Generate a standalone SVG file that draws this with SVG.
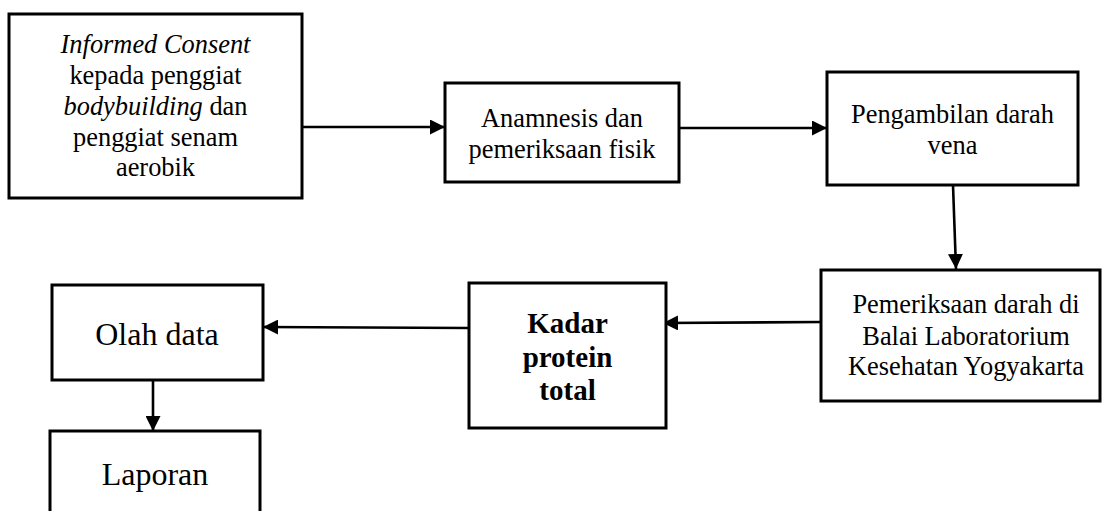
<svg xmlns="http://www.w3.org/2000/svg" width="1102" height="511" viewBox="0 0 1102 511">
<defs>
<marker id="ah" viewBox="0 0 15 15" refX="15" refY="7.5" markerWidth="15" markerHeight="15" markerUnits="userSpaceOnUse" orient="auto">
<path d="M0,0 L15,7.5 L0,15 z" fill="#000"/>
</marker>
<style>
.box{fill:#fff;stroke:#000;stroke-width:3}
.t{font-family:"Liberation Serif","Times New Roman",serif;font-size:26.4px;fill:#000;text-anchor:middle}
.b{font-weight:bold;font-size:29px}
.l{font-size:32px}
.c{fill:none;stroke:#000;stroke-width:2.6;marker-end:url(#ah)}
</style>
</defs>
<rect width="1102" height="511" fill="#fff"/>
<g id="connectors">
<line class="c" x1="302" y1="127" x2="445" y2="127"/>
<line class="c" x1="679" y1="128" x2="827" y2="128"/>
<line class="c" x1="953" y1="185" x2="956" y2="269"/>
<line class="c" x1="821" y1="322" x2="663" y2="323"/>
<line class="c" x1="469" y1="328" x2="263" y2="327"/>
<line class="c" x1="153" y1="380" x2="153" y2="431"/>
</g>
<g id="n1">
<rect class="box" x="9" y="14" width="293" height="184"/>
<text class="t" x="155.5" y="53"><tspan font-style="italic">Informed Consent</tspan></text>
<text class="t" x="155.5" y="84">kepada penggiat</text>
<text class="t" x="155.5" y="115"><tspan font-style="italic">bodybuilding</tspan> dan</text>
<text class="t" x="155.5" y="145.5">penggiat senam</text>
<text class="t" x="155.5" y="176">aerobik</text>
</g>
<g id="n2">
<rect class="box" x="445" y="83" width="234" height="99"/>
<text class="t" x="562" y="127">Anamnesis dan</text>
<text class="t" x="562" y="158">pemeriksaan fisik</text>
</g>
<g id="n3">
<rect class="box" x="827" y="72" width="251" height="113"/>
<text class="t" x="952.5" y="123">Pengambilan darah</text>
<text class="t" x="952.5" y="154">vena</text>
</g>
<g id="n4">
<rect class="box" x="821" y="270" width="279" height="131"/>
<text class="t" x="966" y="313">Pemeriksaan darah di</text>
<text class="t" x="966" y="345">Balai Laboratorium</text>
<text class="t" x="966" y="375">Kesehatan Yogyakarta</text>
</g>
<g id="n5">
<rect class="box" x="469" y="283" width="197" height="145"/>
<text class="t b" x="567.5" y="333">Kadar</text>
<text class="t b" x="567.5" y="367">protein</text>
<text class="t b" x="567.5" y="400">total</text>
</g>
<g id="n6">
<rect class="box" x="52" y="285" width="211" height="95"/>
<text class="t l" x="157" y="345">Olah data</text>
</g>
<g id="n7">
<rect class="box" x="50" y="431" width="210" height="90"/>
<text class="t l" x="155" y="485">Laporan</text>
</g>
</svg>
